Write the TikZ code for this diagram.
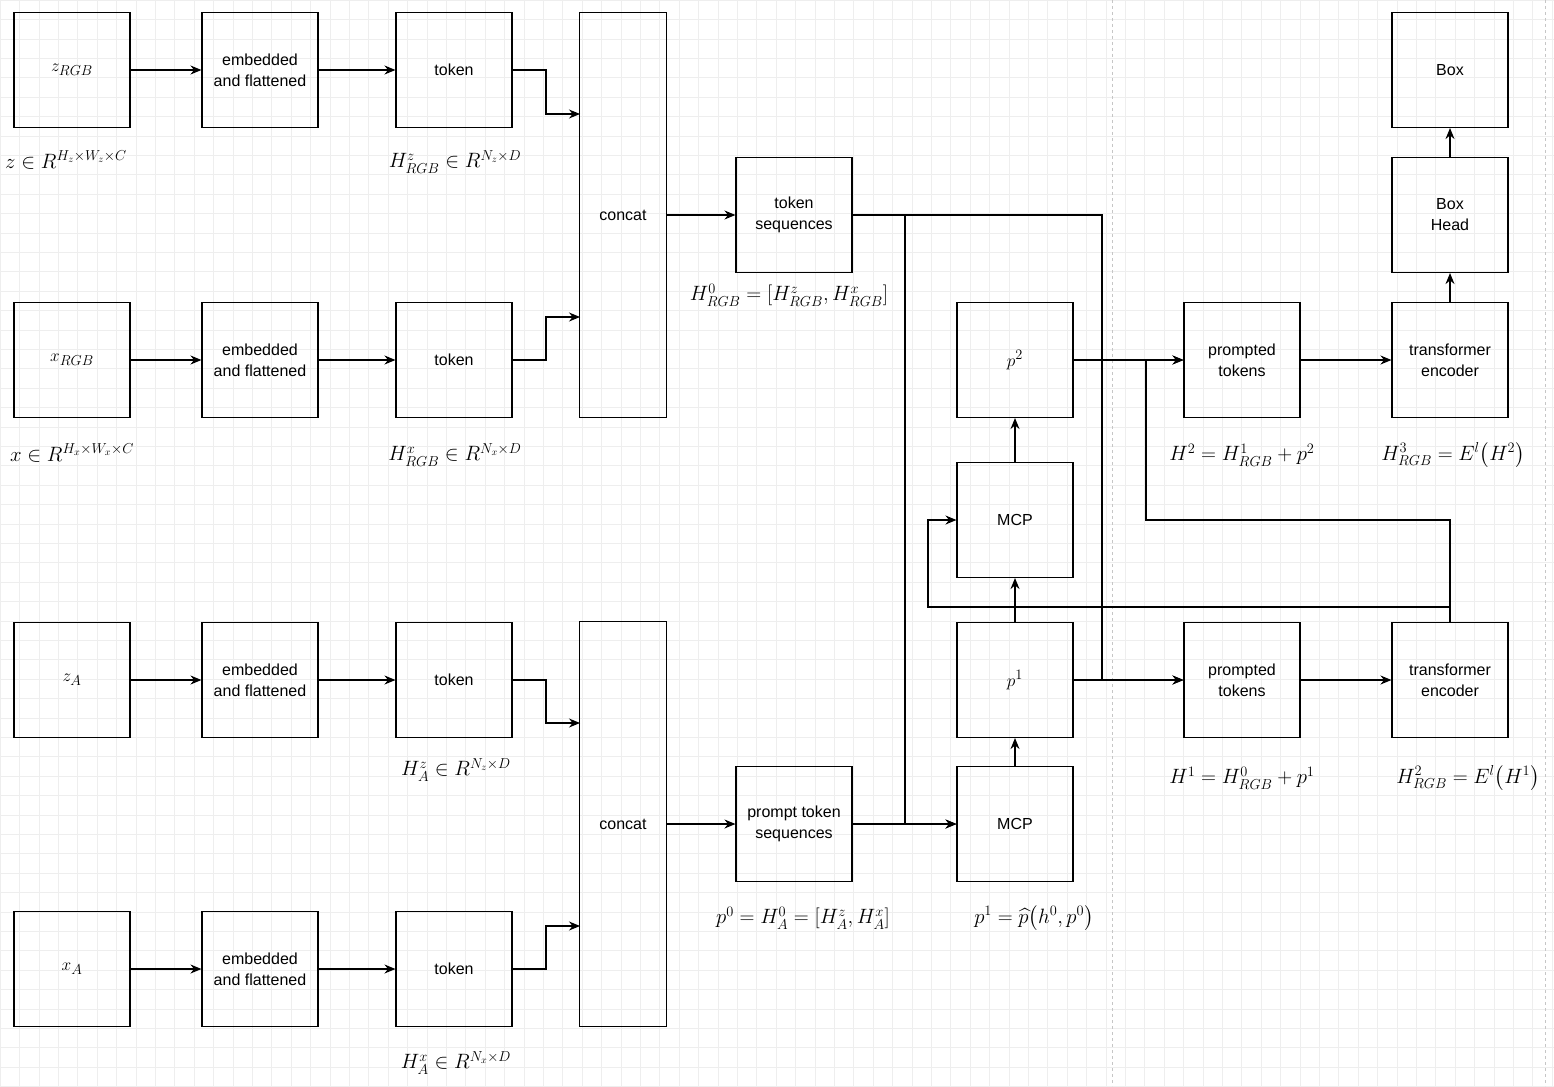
\documentclass[tikz,border=0pt]{standalone}
\usepackage{fontspec}
\setmainfont{Liberation Sans}
\usepackage{amsmath}
\usetikzlibrary{arrows.meta}
\begin{document}
\begin{tikzpicture}[x=1pt,y=-1pt,
  b/.style={draw,line width=1.1pt,minimum width=116pt,minimum height=115pt,align=center,font=\fontsize{16}{21}\selectfont,inner sep=1pt},
  c/.style={draw,line width=1.1pt,minimum width=87pt,minimum height=405pt,align=center,font=\fontsize{16}{21}\selectfont},
  bm/.style={b,font=\fontsize{19}{21}\selectfont},
  a/.style={-{Stealth[length=11pt,width=9pt]},line width=1.1pt},
  m/.style={font=\fontsize{20.5}{22}\selectfont,inner sep=0pt}]
\useasboundingbox (0,0) rectangle (1554,1086);
\foreach \i in {0,...,80} \draw[gray!13,line width=0.5pt] (\i*19.4,0) -- (\i*19.4,1086);
\foreach \i in {0,...,56} \draw[gray!13,line width=0.5pt] (0,\i*19.4) -- (1554,\i*19.4);
\draw[gray!45,dashed] (1112,0) -- (1112,1086);
\draw[gray!45,dashed] (1545,0) -- (1545,1086);
% row 1
\node[bm] (z) at (72,70) {$z_{RGB}$};
\node[b] (e1) at (260,70) {embedded\\and flattened};
\node[b] (t1) at (454,70) {token};
\node[bm] (x) at (72,360) {$x_{RGB}$};
\node[b] (e2) at (260,360) {embedded\\and flattened};
\node[b] (t2) at (454,360) {token};
\node[c] (c1) at (623,215) {concat};
\node[b] (ts) at (794,215) {token\\sequences};
% bottom
\node[bm] (za) at (72,680) {$z_A$};
\node[b] (e3) at (260,680) {embedded\\and flattened};
\node[b] (t3) at (454,680) {token};
\node[bm] (xa) at (72,969) {$x_A$};
\node[b] (e4) at (260,969) {embedded\\and flattened};
\node[b] (t4) at (454,969) {token};
\node[c] (c2) at (623,824) {concat};
\node[b] (pts) at (794,824) {prompt token\\sequences};
% middle
\node[b] (mcp1) at (1015,824) {MCP};
\node[bm] (p1) at (1015,680) {$p^1$};
\node[b] (mcp2) at (1015,520) {MCP};
\node[bm] (p2) at (1015,360) {$p^2$};
\node[b] (pt1) at (1242,680) {prompted\\tokens};
\node[b] (pt2) at (1242,360) {prompted\\tokens};
\node[b] (te1) at (1450,680) {transformer\\encoder};
\node[b] (te2) at (1450,360) {transformer\\encoder};
\node[b] (bh) at (1450,215) {Box\\Head};
\node[b] (box) at (1450,70) {Box};
% edges
\foreach \p/\q in {z/e1,e1/t1,x/e2,e2/t2,za/e3,e3/t3,xa/e4,e4/t4,c1/ts,c2/pts,pts/mcp1,p1/pt1,p2/pt2,pt1/te1,pt2/te2}
  \draw[a] (\p) -- (\q);
\draw[a] (mcp1) -- (p1);
\draw[a] (p1) -- (mcp2);
\draw[a] (mcp2) -- (p2);
\draw[a] (te2) -- (bh);
\draw[a] (bh) -- (box);
\draw[a] (t1.east) -- (546,70) |- (580,114);
\draw[a] (t2.east) -- (546,360) |- (580,317);
\draw[a] (t3.east) -- (546,680) |- (580,723);
\draw[a] (t4.east) -- (546,969) |- (580,926);
\draw[a] (ts.east) -| (905,824) -- (mcp1.west);
\draw[a] (ts.east) -| (1102,680) -- (pt1.west);
\draw[a] (te1.north) |- (1146,520) |- (pt2.west);
\draw[a] (te1.north) |- (928,607) |- (mcp2.west);
% labels
\node[m] (l1) at (66,160) {$z\in R^{H_z\times W_z\times C}$};
\node[m] (l2) at (72,453) {$x\in R^{H_x\times W_x\times C}$};
\node[m] (l3) at (455,162) {$H^z_{RGB}\in R^{N_z\times D}$};
\node[m] (l4) at (455,455) {$H^x_{RGB}\in R^{N_x\times D}$};
\node[m] (l5) at (789,295) {$H^0_{RGB}=[H^z_{RGB},H^x_{RGB}]$};
\node[m] (l6) at (456,770) {$H^z_A\in R^{N_z\times D}$};
\node[m] (l7) at (456,1063) {$H^x_A\in R^{N_x\times D}$};
\node[m] (l8) at (803,918) {$p^0=H^0_A=[H^z_A,H^x_A]$};
\node[m] (l9) at (1034,918) {$p^1=\widehat{p}\big(h^0,p^0\big)$};
\node[m] (l10) at (1242,455) {$H^2=H^1_{RGB}+p^2$};
\node[m] (l11) at (1453,455) {$H^3_{RGB}=E^l\big(H^2\big)$};
\node[m] (l12) at (1242,778) {$H^1=H^0_{RGB}+p^1$};
\node[m] (l13) at (1468,778) {$H^2_{RGB}=E^l\big(H^1\big)$};
\end{tikzpicture}
\end{document}
